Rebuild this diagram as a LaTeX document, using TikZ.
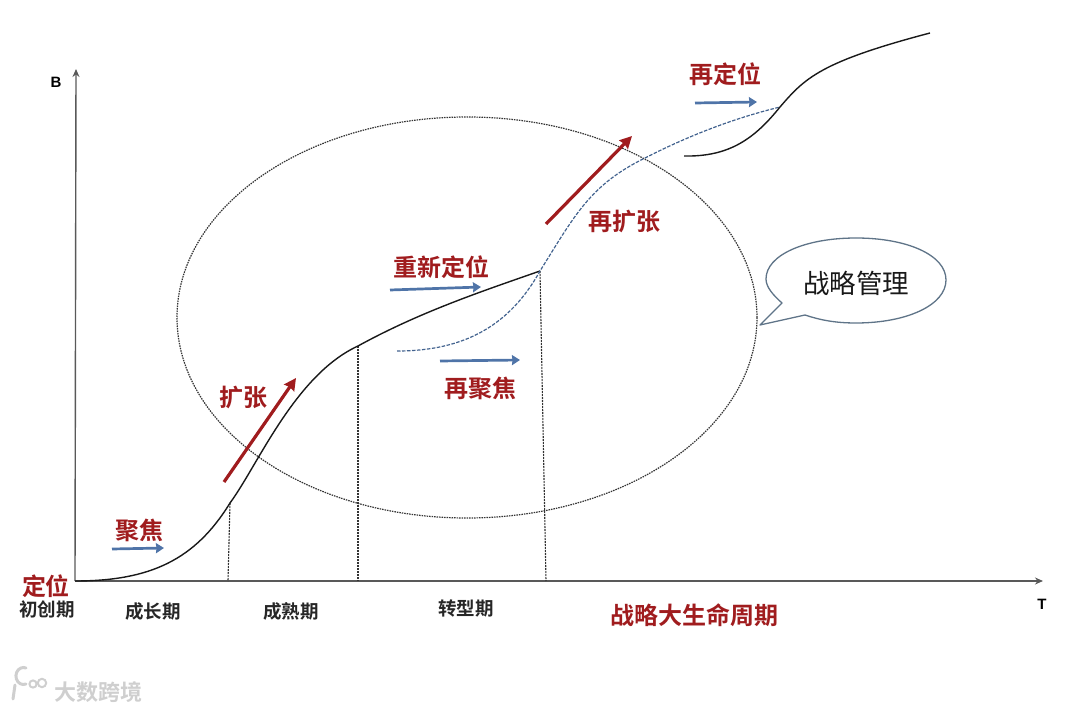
\documentclass[tikz,border=0pt]{standalone}
\usepackage{fontspec}
\usetikzlibrary{arrows.meta,shapes.geometric}
\newfontfamily\cjkbold[BoldFont={Noto Sans CJK SC Bold}]{Noto Sans CJK SC}
\newfontfamily\cjkreg{Noto Sans CJK SC}
\newfontfamily\latinbold{Liberation Sans Bold}
\definecolor{dred}{HTML}{A01C1E}
\definecolor{sblue}{HTML}{4F74A8}
\definecolor{lgray}{HTML}{CFCFCF}
\definecolor{cline}{HTML}{5F7488}
\tikzset{
  x=1pt,y=-1pt,
  redlabel/.style={text=dred,font=\cjkbold\bfseries\fontsize{24}{24}\selectfont,inner sep=0pt},
  blacklabel/.style={text=black!85,font=\cjkbold\bfseries\fontsize{18.5}{19}\selectfont,inner sep=0pt},
  axislabel/.style={text=black,font=\latinbold\fontsize{15}{15}\selectfont,inner sep=0pt},
  axisline/.style={draw=black!65,line width=1.4pt,-{Stealth[length=8pt,width=7pt]}},
  bluearrow/.style={draw=sblue,line width=2.7pt,-{Stealth[length=8pt,width=10pt,inset=0.5pt]}},
  redarrow/.style={draw=dred,line width=3.2pt,-{Stealth[length=12pt,width=12pt,inset=1pt]}},
  curveline/.style={draw=black!90,line width=1.4pt},
  dashcurve/.style={draw=sblue!85!black,line width=1.2pt,dash pattern=on 3.5pt off 1.5pt},
  dropline/.style={draw=black!80,line width=1.1pt,dash pattern=on 2pt off 1pt},
  ellipseline/.style={draw=black!80,line width=1.2pt,dash pattern=on 1.5pt off 1pt},
  calloutline/.style={draw=cline,line width=1.3pt,fill=white,line join=round},
}
\begin{document}
\begin{tikzpicture}
\useasboundingbox (0,0) rectangle (1080,711);
% coordinates
\coordinate (O) at (75,581);
\coordinate (Yend) at (76,69);
\coordinate (Xend) at (1043,581);
\coordinate (P1) at (230,503);
\coordinate (P2) at (358,346);
\coordinate (P3) at (540,271);
\coordinate (P1b) at (228,581);
\coordinate (P2b) at (358,581);
\coordinate (P3b) at (546,581);
\coordinate (D0) at (397,351);
\coordinate (D1) at (645,158);
\coordinate (D2) at (780,107);
\coordinate (U0) at (684,156);
\coordinate (U1) at (930,33);
% big ellipse
\node[ellipse,ellipseline,minimum width=580pt,minimum height=401pt,inner sep=0pt] (bigE) at (467,317.5) {};
% axes
\draw[axisline] (O) -- (Yend);
\draw[axisline] (O) -- (Xend);
% drop lines
\draw[dropline] (P1) -- (P1b);
\draw[dropline] (P2) -- (P2b);
\draw[dropline] (P3) -- (P3b);
% main curve
\draw[curveline] (O) .. controls (150,581) and (195,560) .. (P1)
  .. controls (258,465) and (295,375) .. (P2)
  .. controls (420,312) and (480,292) .. (P3);
% dashed curve
\draw[dashcurve] (D0) .. controls (465,351) and (510,325) .. (P3)
  .. controls (575,215) and (590,185) .. (D1)
  .. controls (690,135) and (735,118) .. (D2);
% upper curve
\draw[curveline] (U0) .. controls (730,157) and (755,138) .. (D2)
  .. controls (805,78) and (820,62) .. (U1);
% arrows
\coordinate (a1s) at (112,549); \coordinate (a1e) at (164,548);
\coordinate (a2s) at (390,290); \coordinate (a2e) at (481,287);
\coordinate (a3s) at (440,361); \coordinate (a3e) at (520,360);
\coordinate (a4s) at (695,103); \coordinate (a4e) at (757,102);
\coordinate (r1s) at (224,482); \coordinate (r1e) at (296,378);
\coordinate (r2s) at (546,224); \coordinate (r2e) at (632,136);
\draw[bluearrow] (a1s) -- (a1e);
\draw[bluearrow] (a2s) -- (a2e);
\draw[bluearrow] (a3s) -- (a3e);
\draw[bluearrow] (a4s) -- (a4e);
\draw[redarrow] (r1s) -- (r1e);
\draw[redarrow] (r2s) -- (r2e);
% callout
\coordinate (c0) at (782,303);
\coordinate (cT) at (760,325);
\coordinate (c1) at (805,315);
\draw[calloutline] (c1) -- (cT) -- (c0)
  .. controls (773,295) and (766,287) .. (766,279)
  .. controls (766,255) and (805,238) .. (856,238)
  .. controls (907,238) and (946,255) .. (946,280)
  .. controls (946,305) and (907,323) .. (856,323)
  .. controls (835,323) and (820,320) .. (c1) -- cycle;
\node[font=\cjkreg\fontsize{26.5}{27}\selectfont,inner sep=0pt,text=black!90] (cl) at (856,283) {战略管理};
% labels
\node[axislabel] (lB) at (56,82) {B};
\node[axislabel] (lT) at (1042,604) {T};
\node[redlabel] (l1) at (46,586) {定位};
\node[redlabel] (l2) at (139,530) {聚焦};
\node[redlabel] (l3) at (243,397) {扩张};
\node[redlabel] (l4) at (441,267) {重新定位};
\node[redlabel] (l5) at (480,388) {再聚焦};
\node[redlabel] (l6) at (624,221) {再扩张};
\node[redlabel] (l7) at (725,74) {再定位};
\node[redlabel] (l8) at (694,615) {战略大生命周期};
\node[blacklabel] (s1) at (47,609) {初创期};
\node[blacklabel] (s2) at (153,611) {成长期};
\node[blacklabel] (s3) at (291,611) {成熟期};
\node[blacklabel] (s4) at (466,609) {转型期};
% watermark
\draw[lgray,line width=3pt,line cap=round] (15,685) -- (13,699);
\draw[lgray,line width=3pt,line cap=round] (26,684) arc (70:290:7.5 and 8.5);
\draw[lgray,line width=2pt] (33,684) circle (3.6);
\draw[lgray,line width=2pt] (42,683) circle (4.2);
\node[text=lgray,font=\cjkbold\bfseries\fontsize{22}{22}\selectfont,inner sep=0pt] (wm) at (98,692) {大数跨境};
\end{tikzpicture}
\end{document}
